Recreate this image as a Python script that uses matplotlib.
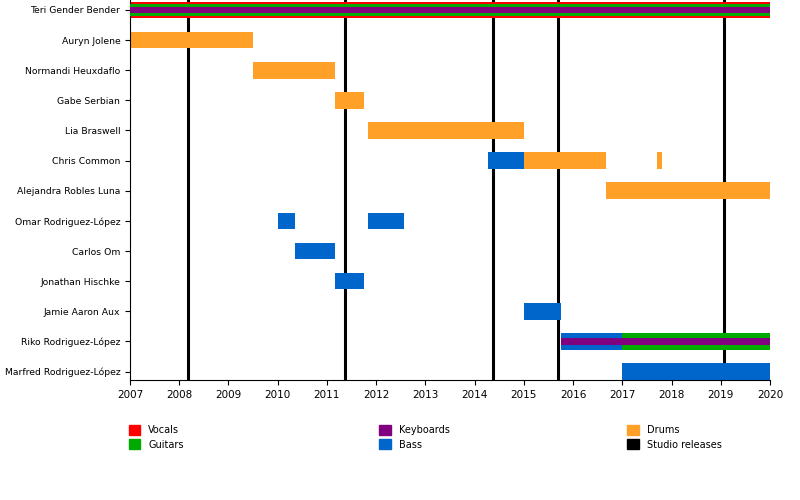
import matplotlib.pyplot as plt
from matplotlib.patches import Patch

members = ["Teri Gender Bender", "Auryn Jolene", "Normandi Heuxdaflo", "Gabe Serbian",
           "Lia Braswell", "Chris Common", "Alejandra Robles Luna", "Omar Rodriguez-López",
           "Carlos Om", "Jonathan Hischke", "Jamie Aaron Aux", "Riko Rodriguez-López",
           "Marfred Rodriguez-López"]

# (member index, start, end, role) -- full height bars
full_bars = [
    (0, 2007.0, 2020.0, "Vocals"),
    (1, 2007.0, 2009.5, "Drums"),
    (2, 2009.5, 2011.17, "Drums"),
    (3, 2011.17, 2011.75, "Drums"),
    (4, 2011.83, 2015.0, "Drums"),
    (5, 2014.27, 2015.0, "Bass"),
    (5, 2015.0, 2016.67, "Drums"),
    (5, 2017.7, 2017.8, "Drums"),
    (6, 2016.67, 2020.0, "Drums"),
    (7, 2010.0, 2010.35, "Bass"),
    (7, 2011.83, 2012.57, "Bass"),
    (8, 2010.35, 2011.17, "Bass"),
    (9, 2011.17, 2011.75, "Bass"),
    (10, 2015.0, 2015.75, "Bass"),
    (11, 2015.75, 2017.0, "Bass"),
    (11, 2017.0, 2020.0, "Guitars"),
    (12, 2017.0, 2020.0, "Bass"),
]
# secondary roles drawn thinner inside
inner_bars = [
    (0, 2007.0, 2020.0, "Guitars", 0.4),
    (0, 2007.0, 2020.0, "Keyboards", 0.22),
    (11, 2015.75, 2020.0, "Keyboards", 0.22),
]
releases = [2008.17, 2011.37, 2014.37, 2015.7, 2019.07]

colors = {"Vocals": "#ff0000", "Guitars": "#00aa00", "Keyboards": "#800080",
          "Bass": "#0066cc", "Drums": "#ffa028", "Studio releases": "#000000"}

fig = plt.figure(figsize=(8, 5), dpi=100)
ax = fig.add_axes([0.1625, 0.24, 0.8, 0.76])

for i, s, e, r in full_bars:
    ax.barh(i, e - s, left=s, height=0.55, color=colors[r], zorder=2)
for i, s, e, r, h in inner_bars:
    ax.barh(i, e - s, left=s, height=h, color=colors[r], zorder=3)
for x in releases:
    ax.axvline(x, color="black", lw=2.2, zorder=1)

ax.set_xlim(2007, 2020)
ax.set_ylim(12.28, -0.33)
ax.set_yticks(range(len(members)))
ax.set_yticklabels(members, fontsize=6.7)
ax.set_xticks(range(2007, 2021))
ax.tick_params(axis="x", labelsize=7.5)
for sp in ["top", "right"]:
    ax.spines[sp].set_visible(False)

legend_cols = [["Vocals", "Guitars"], ["Keyboards", "Bass"], ["Drums", "Studio releases"]]
legend_x = [0.15, 0.463, 0.773]
for col, lx in zip(legend_cols, legend_x):
    handles = [Patch(color=colors[k], label=k) for k in col]
    fig.legend(handles=handles, loc="upper left", bbox_to_anchor=(lx, 0.168),
               frameon=False, fontsize=7, handlelength=1.2, handleheight=1.2,
               labelspacing=0.45)

fig.savefig("out.png")
